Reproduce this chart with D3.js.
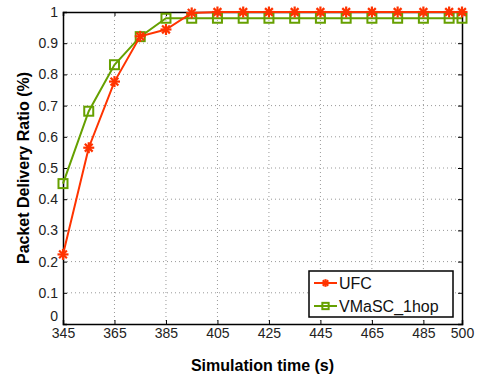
<!DOCTYPE html>
<html><head><meta charset="utf-8">
<script src="https://cdn.jsdelivr.net/npm/d3@7"></script>
<style>body{margin:0;background:#fff}svg{display:block}text{font-family:"Liberation Sans",Arial,sans-serif}</style>
</head><body>
<script>
const times = [345,355,365,375,385,395,405,415,425,435,445,455,465,475,485,495,500];
const ufc   = [0.223,0.565,0.777,0.922,0.944,0.997,1,1,1,1,1,1,1,1,1,1,1];
const vmasc = [0.450,0.682,0.831,0.921,0.980,0.980,0.980,0.980,0.980,0.980,0.980,0.980,0.980,0.980,0.980,0.980,0.980];
const xTicks = [345,365,385,405,425,445,465,485,500];
const yTicks = [0,0.1,0.2,0.3,0.4,0.5,0.6,0.7,0.8,0.9,1];
const seriesNames = ["UFC","VMaSC_1hop"];

const W=478,H=383, L=63,R=462,T=12,B=324;
const red="#ff3300", green="#66a000";
const svg=d3.select("body").append("svg").attr("width",W).attr("height",H);
const x=d3.scaleLinear().domain([345,500]).range([L,R]);
const y=d3.scaleLinear().domain([0,1]).range([B,T]);

// grid
const g=svg.append("g");
g.selectAll(".gx").data(xTicks.slice(1,-1)).join("line")
 .attr("x1",d=>x(d)).attr("x2",d=>x(d)).attr("y1",T).attr("y2",B)
 .attr("stroke","#999").attr("stroke-width",1).attr("stroke-dasharray","1,3");
g.selectAll(".gy").data(yTicks.slice(1,-1)).join("line")
 .attr("y1",d=>y(d)).attr("y2",d=>y(d)).attr("x1",L).attr("x2",R)
 .attr("stroke","#999").attr("stroke-width",1).attr("stroke-dasharray","1,3");

// axes
const ax=svg.append("g").attr("transform",`translate(0,${B})`)
 .call(d3.axisBottom(x).tickValues(xTicks).tickSize(-4).tickPadding(4).tickFormat(d3.format("d")));
const ay=svg.append("g").attr("transform",`translate(${L},0)`)
 .call(d3.axisLeft(y).tickValues(yTicks).tickSize(-4).tickPadding(5).tickFormat(d=>d===0?"0":d===1?"1":d3.format(".1f")(d)));
const at=svg.append("g").attr("transform",`translate(0,${T})`)
 .call(d3.axisTop(x).tickValues(xTicks).tickSize(-4).tickFormat(""));
const ar=svg.append("g").attr("transform",`translate(${R},0)`)
 .call(d3.axisRight(y).tickValues(yTicks).tickSize(-4).tickFormat(""));
[ax,ay,at,ar].forEach(a=>{a.select(".domain").attr("stroke","#000").attr("stroke-width",1.5);
 a.selectAll(".tick line").attr("stroke","#000");
 a.selectAll("text").attr("font-size",14).attr("fill","#222").attr("font-family","Liberation Sans, Arial, sans-serif");});
ay.selectAll(".tick").filter(d=>d===0).select("text").attr("dy","-0.25em");

// lines
function drawSeries(vals,color,marker){
  const line=d3.line().x((d,i)=>x(times[i])).y(d=>y(d));
  svg.append("path").datum(vals).attr("d",line).attr("fill","none").attr("stroke",color).attr("stroke-width",2);
  const pts=svg.append("g").selectAll("g").data(vals).join("g")
    .attr("transform",(d,i)=>`translate(${x(times[i])},${y(d)})`);
  drawMarker(pts,color,marker,1);
}
function drawMarker(sel,color,marker,s){
  if(marker==="star"){
    const r=5.5*s;
    [0,45,90,135].forEach(a=>{
      sel.append("line").attr("x1",-r).attr("x2",r).attr("y1",0).attr("y2",0)
        .attr("transform",`rotate(${a})`).attr("stroke",color).attr("stroke-width",2.2);
    });
  } else {
    const r=4.5*s;
    sel.append("rect").attr("x",-r).attr("y",-r).attr("width",2*r).attr("height",2*r)
      .attr("fill","none").attr("stroke",color).attr("stroke-width",2);
  }
}
drawSeries(vmasc,green,"square");
drawSeries(ufc,red,"star");

// labels
svg.append("text").attr("x",(L+R)/2).attr("y",371).attr("text-anchor","middle")
  .attr("font-size",16).attr("font-weight","bold").text("Simulation time (s)");
svg.append("text").attr("transform",`translate(29,${(T+B)/2}) rotate(-90)`).attr("text-anchor","middle")
  .attr("font-size",16).attr("font-weight","bold").text("Packet Delivery Ratio (%)");

// legend
const lg=svg.append("g");
lg.append("rect").attr("x",309).attr("y",271).attr("width",144).attr("height",46)
  .attr("fill","#fff").attr("stroke","#000").attr("stroke-width",1.5);
const colors=[red,green], markers=["star","square"];
seriesNames.forEach((n,i)=>{
  const yy=283+i*23;
  lg.append("line").attr("x1",314).attr("x2",337).attr("y1",yy).attr("y2",yy).attr("stroke",colors[i]).attr("stroke-width",2);
  const m=lg.append("g").attr("transform",`translate(325.5,${yy})`);
  drawMarker(m,colors[i],markers[i],0.7);
  lg.append("text").attr("x",339).attr("y",yy+5.5).attr("font-size",16).attr("fill","#111").text(n);
});
</script>
</body></html>
